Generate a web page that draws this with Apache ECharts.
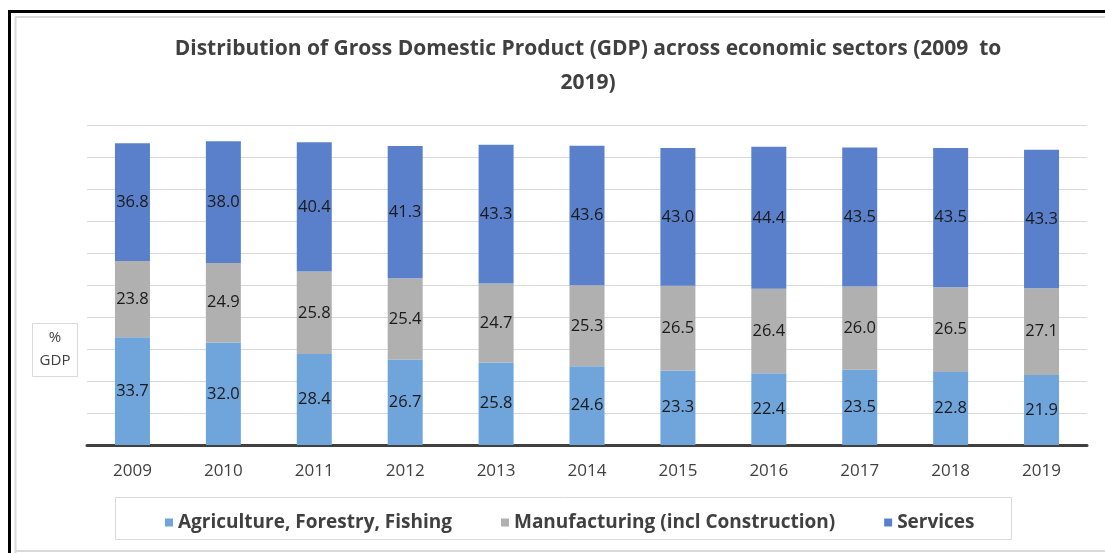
<!DOCTYPE html>
<html>
<head>
<meta charset="utf-8">
<script src="https://cdn.jsdelivr.net/npm/echarts@6/dist/echarts.min.js"></script>
<style>html,body{margin:0;padding:0;background:#fff;}#c{width:1105px;height:553px;}</style>
</head>
<body>
<div id="c"></div>
<script>
const years = ['2009','2010','2011','2012','2013','2014','2015','2016','2017','2018','2019'];
const agriculture = [33.7, 32.0, 28.4, 26.7, 25.8, 24.6, 23.3, 22.4, 23.5, 22.8, 21.9];
const manufacturing = [23.8, 24.9, 25.8, 25.4, 24.7, 25.3, 26.5, 26.4, 26.0, 26.5, 27.1];
const services = [36.8, 38.0, 40.4, 41.3, 43.3, 43.6, 43.0, 44.4, 43.5, 43.5, 43.3];
const seriesNames = ['Agriculture, Forestry, Fishing', 'Manufacturing (incl Construction)', 'Services'];
const titleText = 'Distribution of Gross Domestic Product (GDP) across economic sectors (2009  to\n2019)';

const FONT = 'Open Sans';
const colors = ['#6fa5db', '#b0b0b0', '#5a80cc'];
const chart = echarts.init(document.getElementById('c'));
const label = {
  show: true, position: 'inside', color: '#1a1a1a', fontFamily: FONT, fontSize: 16.5,
  formatter: p => p.value.toFixed(1)
};
function mk(name, data, color) {
  return { name, type: 'bar', stack: 'gdp', data, barWidth: 35, itemStyle: { color }, label };
}
chart.setOption({
  animation: false,
  color: colors,
  title: {
    text: titleText, left: 583, textAlign: 'center', top: 27,
    textStyle: { fontFamily: FONT, fontSize: 21, fontWeight: 'bold', color: '#404040', lineHeight: 34 }
  },
  grid: { left: 87, right: 18, top: 125, bottom: 108 },
  xAxis: {
    type: 'category', data: years,
    axisLine: { lineStyle: { color: '#404040', width: 3 } },
    axisTick: { show: false },
    axisLabel: { color: '#404040', fontFamily: FONT, fontSize: 17, margin: 18 }
  },
  yAxis: {
    type: 'value', min: 0, max: 100, interval: 10,
    axisLabel: { show: false }, axisLine: { show: false }, axisTick: { show: false },
    splitLine: { lineStyle: { color: '#d9d9d9', width: 1 } }
  },
  legend: {
    data: seriesNames, left: 160, top: 508, icon: 'rect', itemWidth: 8, itemHeight: 8, itemGap: 49,
    textStyle: { fontFamily: FONT, fontSize: 19, fontWeight: 'bold', color: '#404040' }
  },
  graphic: [
    { type: 'line', shape: { x1: 8, y1: 11.5, x2: 1105, y2: 11.5 }, style: { stroke: '#000', lineWidth: 3 } },
    { type: 'line', shape: { x1: 9.5, y1: 10, x2: 9.5, y2: 553 }, style: { stroke: '#000', lineWidth: 3 } },
    { type: 'line', shape: { x1: 15, y1: 17, x2: 1105, y2: 17 }, style: { stroke: '#d9d9d9', lineWidth: 2 } },
    { type: 'line', shape: { x1: 15.5, y1: 17, x2: 15.5, y2: 553 }, style: { stroke: '#d9d9d9', lineWidth: 2 } },
    { type: 'line', shape: { x1: 15, y1: 551, x2: 1105, y2: 551 }, style: { stroke: '#d9d9d9', lineWidth: 2 } },
    { type: 'rect', shape: { x: 115.5, y: 497.5, width: 896, height: 42 }, style: { fill: 'none', stroke: '#d9d9d9', lineWidth: 1 } },
    { type: 'rect', shape: { x: 32.5, y: 323.5, width: 45, height: 53 }, style: { fill: '#fff', stroke: '#d9d9d9', lineWidth: 1 } },
    { type: 'text', x: 55, y: 338, style: { text: '%', fontFamily: FONT, fontSize: 15, fill: '#404040', textAlign: 'center', textVerticalAlign: 'middle' } },
    { type: 'text', x: 55, y: 361, style: { text: 'GDP', fontFamily: FONT, fontSize: 15, fill: '#404040', textAlign: 'center', textVerticalAlign: 'middle' } }
  ],
  series: [
    mk(seriesNames[0], agriculture, colors[0]),
    mk(seriesNames[1], manufacturing, colors[1]),
    mk(seriesNames[2], services, colors[2])
  ]
});
</script>
</body>
</html>
